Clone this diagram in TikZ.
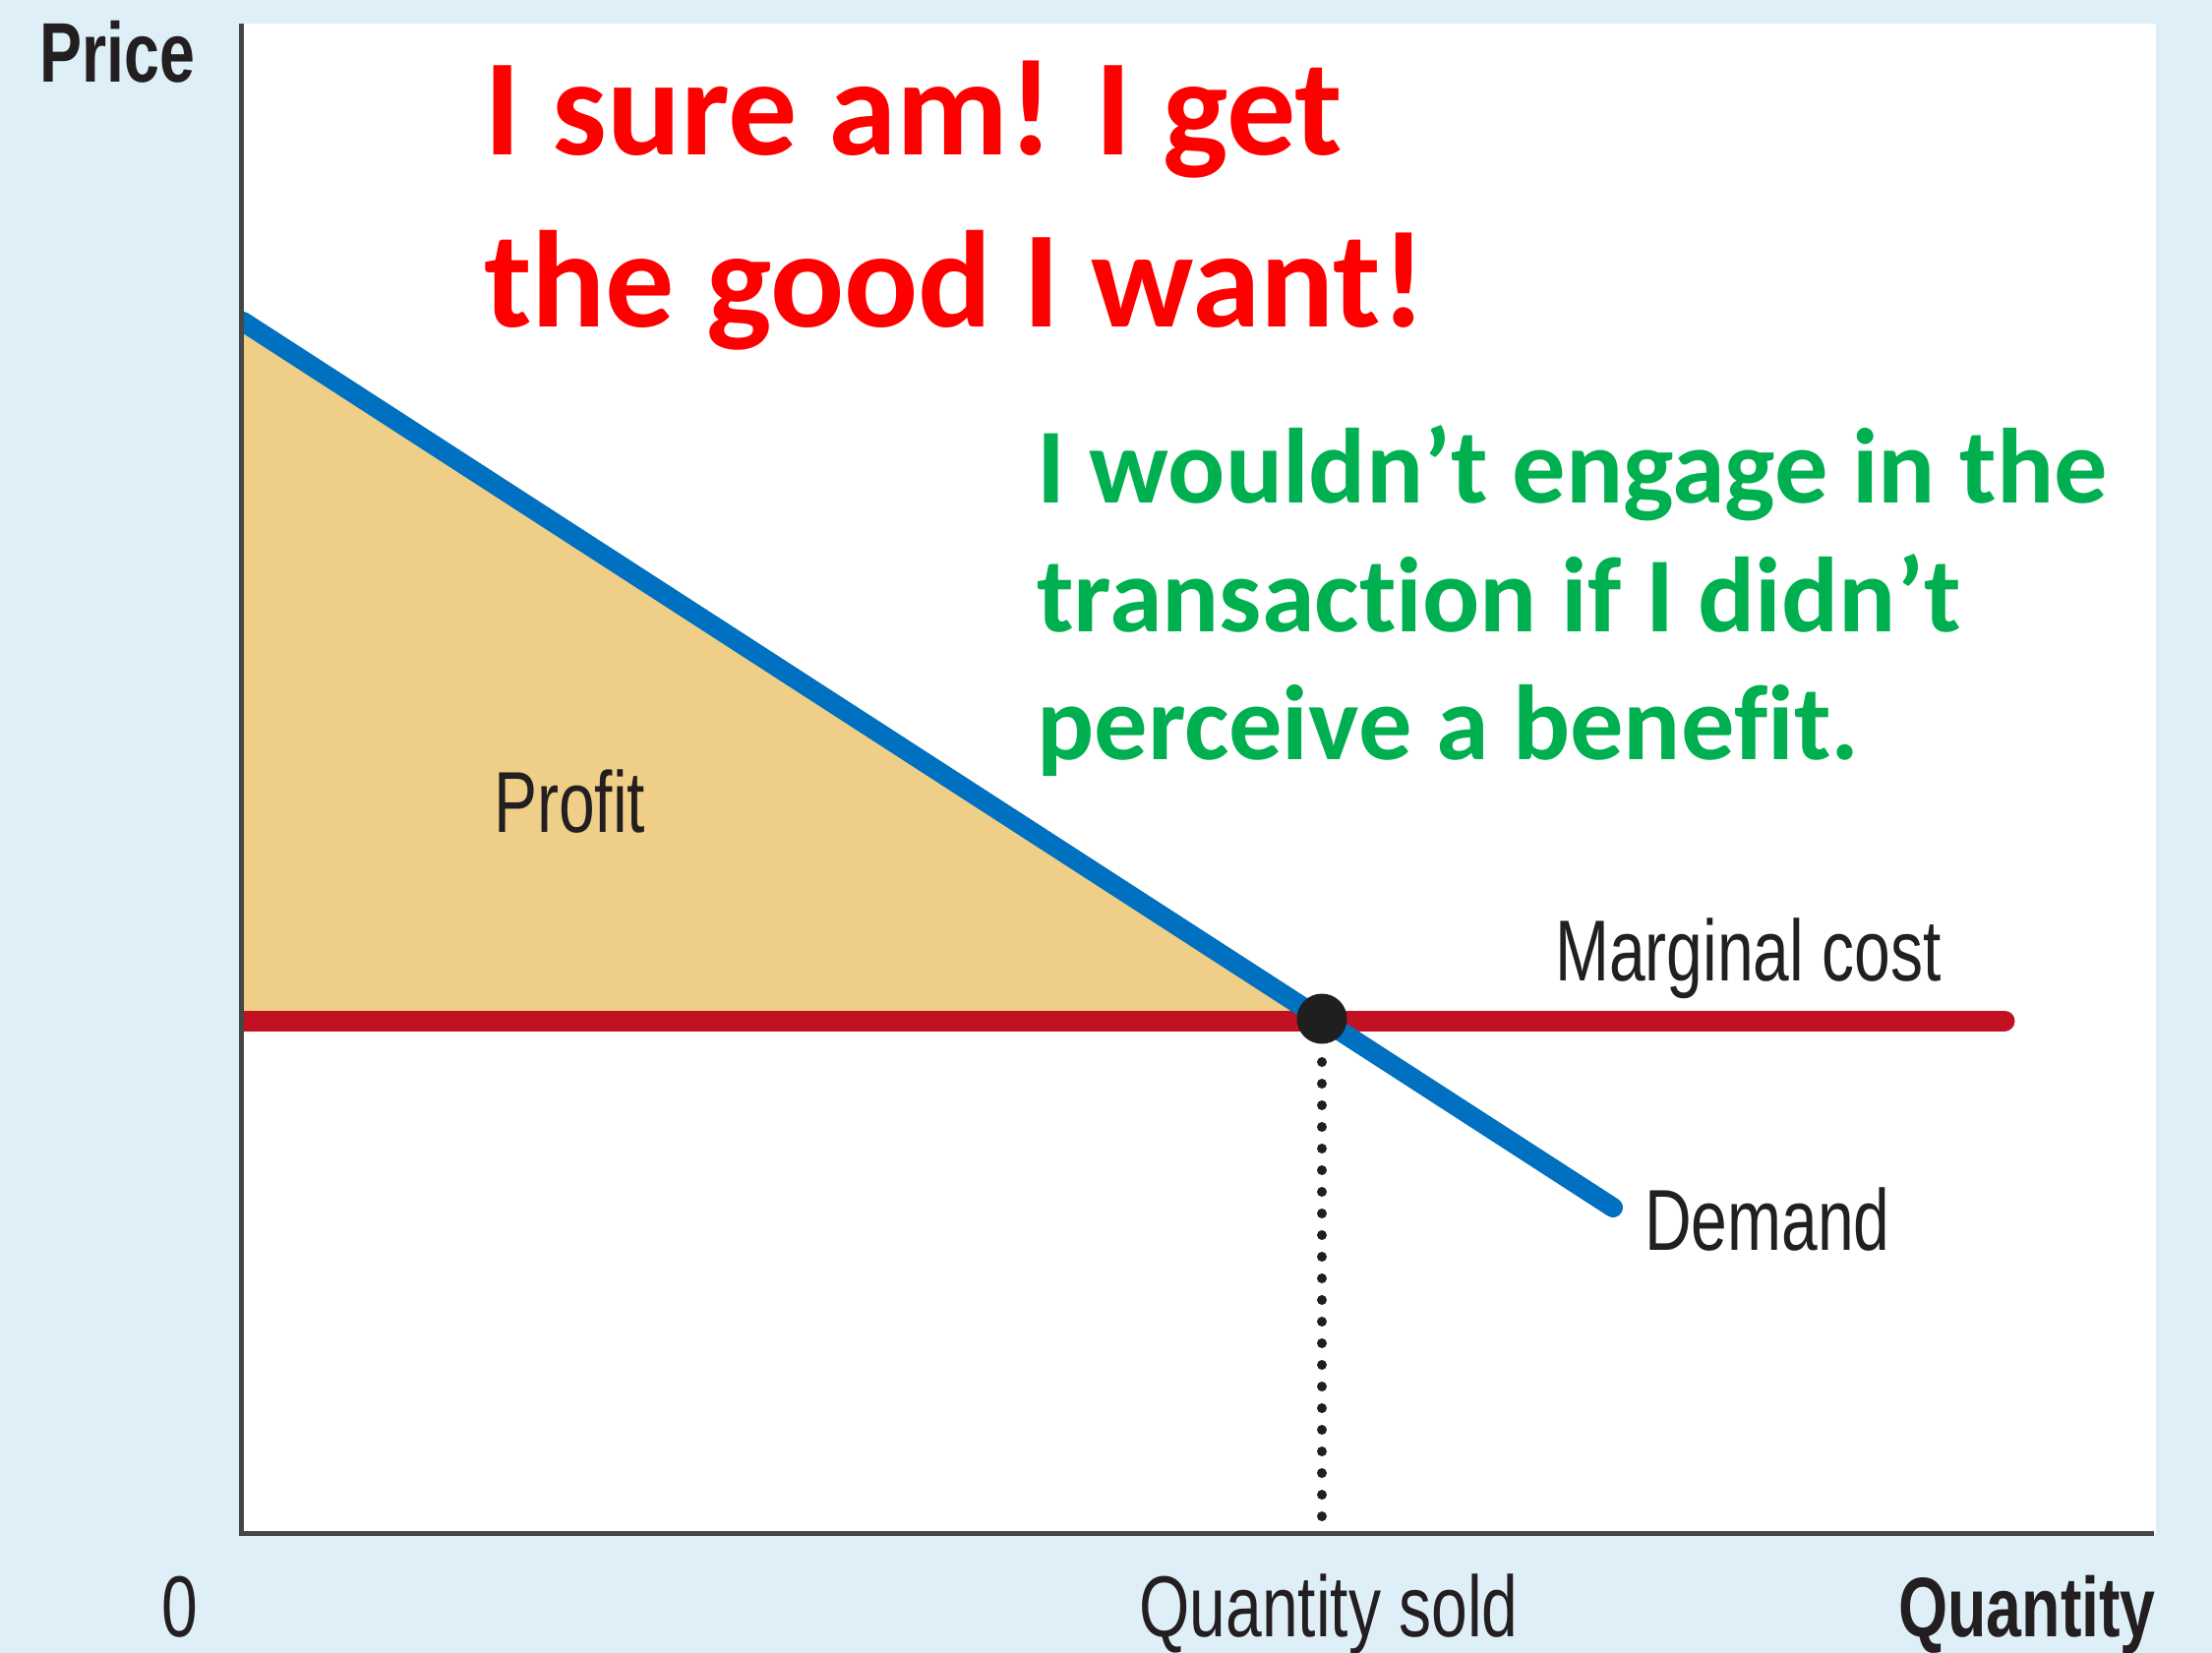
\documentclass[tikz,border=0pt]{standalone}
\usepackage{fontspec}
\setmainfont{Liberation Sans}
\newfontfamily\calib[Ligatures=NoCommon]{Carlito}
\definecolor{bgblue}{RGB}{223,239,248}
\definecolor{demblue}{RGB}{0,112,192}
\definecolor{mcred}{RGB}{193,17,34}
\definecolor{profitfill}{RGB}{239,206,135}
\definecolor{axisgray}{RGB}{70,70,70}
\definecolor{txtdark}{RGB}{35,31,32}
\definecolor{sayred}{RGB}{255,0,0}
\definecolor{saygreen}{RGB}{0,176,80}
\newcommand{\cnd}[1]{\scalebox{0.75}[1]{#1}}
\begin{document}
\begin{tikzpicture}[x=1pt,y=-1pt,
  lbl/.style={inner sep=0pt, text=txtdark, font=\fontsize{88}{100}\selectfont},
  blbl/.style={inner sep=0pt, text=txtdark, font=\fontsize{86}{100}\selectfont\bfseries},
  redsay/.style={inner sep=0pt, anchor=base west, text=sayred, font=\calib\bfseries\fontsize{140}{160}\selectfont},
  greensay/.style={inner sep=0pt, anchor=base west, text=saygreen, font=\calib\bfseries\fontsize{108.5}{130}\selectfont},
  axisline/.style={draw=axisgray, line width=5pt},
  demandline/.style={draw=demblue, line width=20pt, line cap=round},
  mcline/.style={draw=mcred, line width=21pt, line cap=round},
  eqdot/.style={circle, fill=black!88, inner sep=0pt, minimum size=51pt},
  dotline/.style={draw=black!88, line width=10pt, line cap=round, dash pattern=on 0pt off 22pt}]
\useasboundingbox (0,0) rectangle (2249,1681);
\fill[bgblue] (0,0) rectangle (2249,1681);
\fill[white] (248,24) rectangle (2192,1559);

\coordinate (ytop) at (245,24);
\coordinate (orig) at (245,1559);
\coordinate (xend) at (2190,1559);
\coordinate (d1) at (247,327);
\coordinate (d2) at (1640,1228);
\coordinate (m1) at (247,1038);
\coordinate (m2) at (2038,1038);
\coordinate (dtop) at (1344,1080);
\coordinate (qs) at (1344,1552);

\begin{scope}
\clip (248,0) rectangle (2249,1681);
\fill[profitfill] (d1) -- (1344,1038) -- (m1) -- cycle;
\draw[mcline] (m1) -- (m2);
\draw[demandline] (d1) -- (d2);
\end{scope}
\draw[axisline] (ytop) -- (orig) -- (xend);
\node[eqdot] (eq) at (1344,1036) {};
\draw[dotline] (dtop) -- (qs);

\node[blbl, anchor=base west] (price) at (40,83) {\cnd{Price}};
\node[lbl, anchor=base] (zero) at (183,1664) {\cnd{0}};
\node[lbl, anchor=base] (qsold) at (1351,1664) {\cnd{Quantity sold}};
\node[blbl, anchor=base east] (qty) at (2192,1664) {\cnd{Quantity}};
\node[lbl, anchor=base west] (mc) at (1581,997) {\cnd{Marginal cost}};
\node[lbl, anchor=base west] (dem) at (1672,1271) {\cnd{Demand}};
\node[lbl, anchor=base west] (profit) at (502,846) {\cnd{Profit}};

\node[redsay] (r1) at (492,157) {I sure am! I get};
\node[redsay] (r2) at (492,332) {the good I want!};
\node[greensay] (g1) at (1054,511) {I wouldn’t engage in the};
\node[greensay] (g2) at (1054,642) {transaction if I didn’t};
\node[greensay] (g3) at (1054,772) {perceive a benefit.};
\end{tikzpicture}
\end{document}
